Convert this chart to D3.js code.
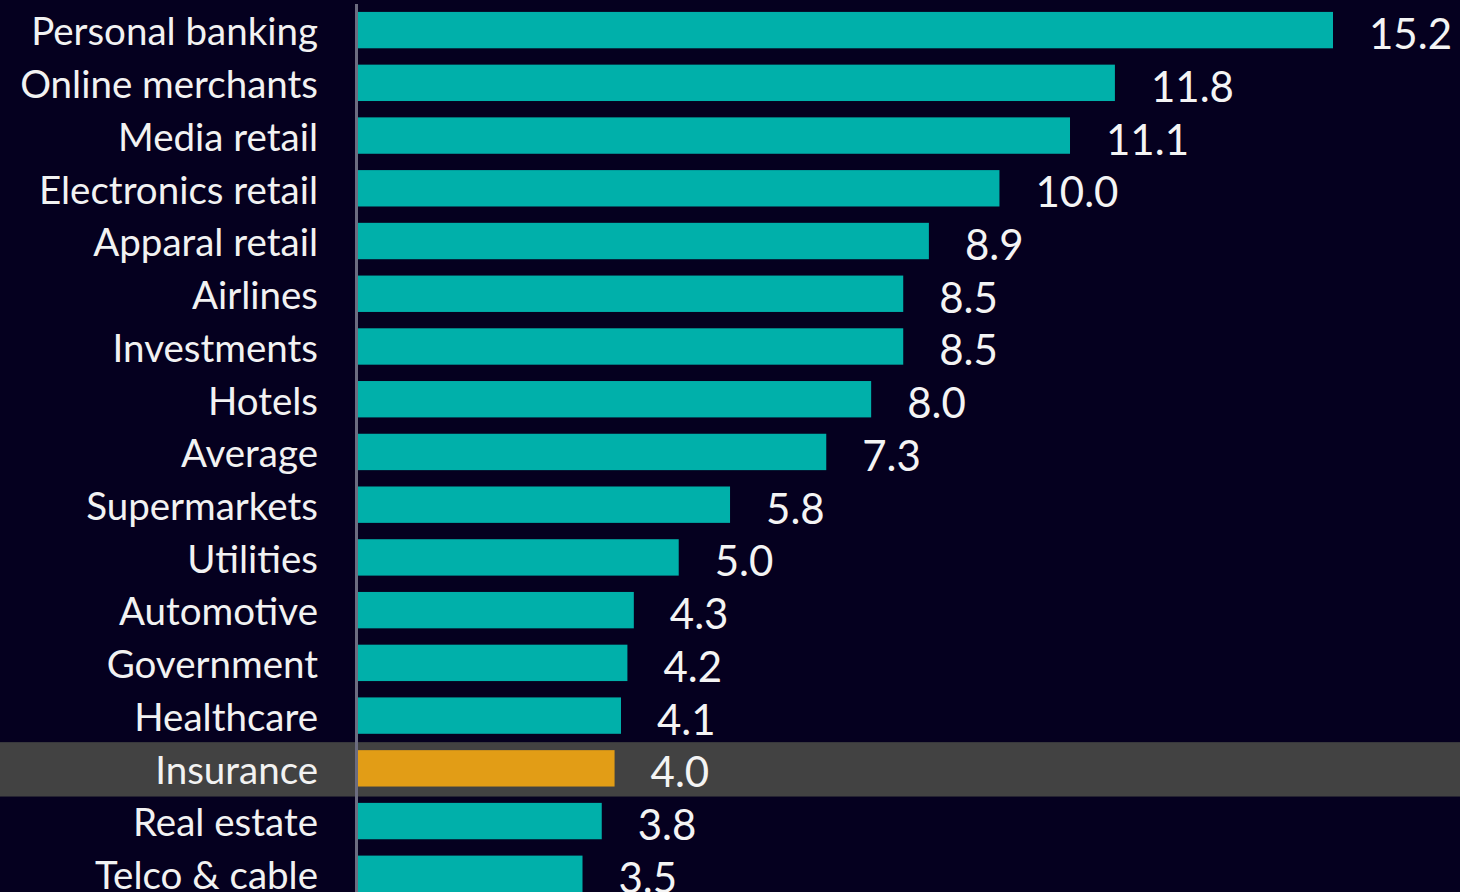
<!DOCTYPE html>
<html>
<head>
<meta charset="utf-8">
<script src="https://d3js.org/d3.v7.min.js"></script>
<style>
    html, body {margin: 0; padding: 0; background: #05001f;}
    #chart {width: 1460px; height: 892px;}
    .cat text {font-family: Lato, "Open Sans", sans-serif; font-size: 38.5px; fill: #f2f2f2;}
    .val {font-family: Lato, "Open Sans", sans-serif; font-size: 42px; fill: #f4f4f4;}
</style>
</head>
<body>
<div id="chart"></div>
<script>
    let categories = ["Personal banking", "Online merchants", "Media retail", "Electronics retail",
        "Apparal retail", "Airlines", "Investments", "Hotels", "Average", "Supermarkets",
        "Utilities", "Automotive", "Government", "Healthcare", "Insurance", "Real estate", "Telco & cable"];
    let values = [15.2, 11.8, 11.1, 10.0, 8.9, 8.5, 8.5, 8.0, 7.3, 5.8, 5.0, 4.3, 4.2, 4.1, 4.0, 3.8, 3.5];
    let highlight = "Insurance";

    let data = categories.map((c, i) => ({name: c, value: values[i]}));

    let width = 1460, height = 892;
    let x0 = 358;

    let x = d3.scaleLinear().domain([0, 15.2]).range([x0, 1333]);
    let y = d3.scaleBand()
        .domain(categories)
        .range([4, 17 * 52.7 + 4])
        .paddingInner(0.31)
        .paddingOuter(0.15);

    let svg = d3.select("#chart").append("svg")
        .attr("width", width).attr("height", height);

    svg.append("rect").attr("width", width).attr("height", height).attr("fill", "#05001f");

    // highlight band
    svg.append("rect")
        .attr("x", 0).attr("width", width)
        .attr("y", y(highlight) - 8).attr("height", y.bandwidth() + 18)
        .attr("fill", "#424242");

    svg.selectAll(".bar")
        .data(data)
        .enter().append("rect")
        .attr("class", "bar")
        .attr("x", x(0))
        .attr("y", d => y(d.name))
        .attr("width", d => x(d.value) - x(0))
        .attr("height", y.bandwidth())
        .attr("fill", d => d.name === highlight ? "#e29d16" : "#00b0aa");

    svg.selectAll(".val")
        .data(data)
        .enter().append("text")
        .attr("class", "val")
        .attr("x", d => x(d.value) + 36)
        .attr("y", d => y(d.name) + y.bandwidth() / 2 + 3)
        .attr("dy", "0.38em")
        .text(d => d.value.toFixed(1));

    let yAxis = d3.axisLeft(y).tickSize(0).tickPadding(40);
    let g = svg.append("g")
        .attr("class", "cat")
        .attr("transform", "translate(" + x0 + ",3)")
        .call(yAxis);
    g.select(".domain").remove();

    svg.append("line")
        .attr("x1", x0 - 1.5).attr("x2", x0 - 1.5)
        .attr("y1", 4).attr("y2", height)
        .attr("stroke", "#6c6c80").attr("stroke-width", 3);
</script>
</body>
</html>
